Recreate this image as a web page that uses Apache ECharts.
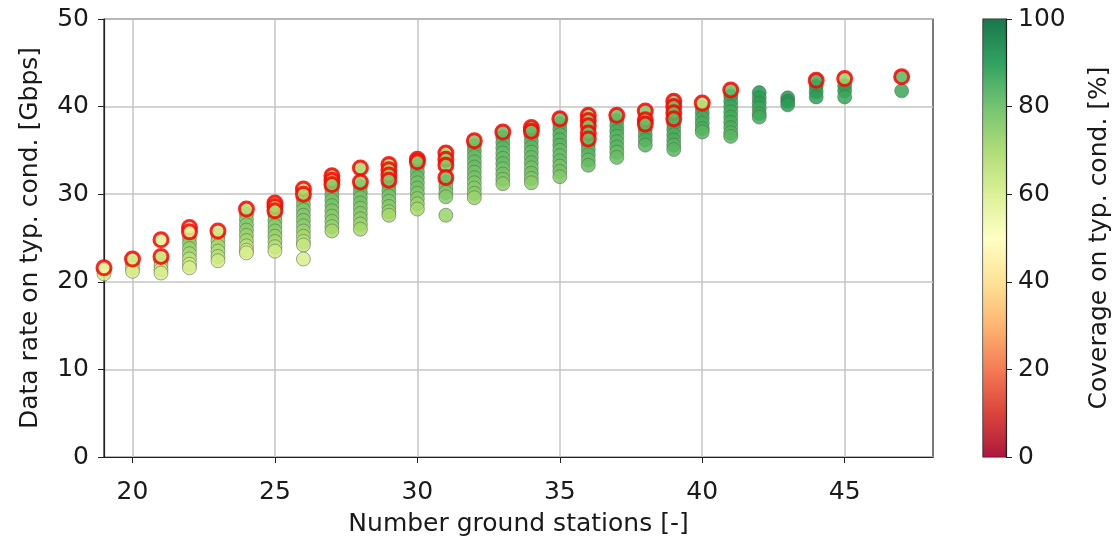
<!DOCTYPE html>
<html>
<head>
<meta charset="utf-8">
<script src="https://cdn.jsdelivr.net/npm/echarts@6/dist/echarts.min.js"></script>
<style>
html,body{margin:0;padding:0;background:#fff;}
#chart{width:1114px;height:536px;}
</style>
</head>
<body>
<div id="chart"></div>
<script>
// number of ground stations (x)
var stations = [19,20,21,22,23,24,25,26,27,28,29,30,31,32,33,34,35,36,37,38,39,40,41,42,43,44,45,47];

// all design points: data rate [Gbps] and coverage [%] per station count
var rateAll = [
	[21.3,20.9],
	[22.1,21.6,21.2],
	[22.4,21.9,21.4,21.0],
	[25.0,24.4,23.8,23.2,22.6,22.0,21.6],
	[25.3,24.7,24.1,23.5,22.9,22.4],
	[27.7,27.1,26.5,25.9,25.3,24.7,24.1,23.6,23.3],
	[27.6,27.0,26.4,25.8,25.2,24.6,24.0,23.5],
	[29.4,28.8,28.2,27.6,27.0,26.4,25.8,25.2,24.6,24.2,22.6],
	[30.5,29.9,29.3,28.7,28.1,27.5,26.9,26.3,25.8],
	[30.8,30.2,29.6,29.0,28.4,27.8,27.2,26.6,26.0],
	[31.0,30.4,29.8,29.2,28.6,28.0,27.6],
	[33.1,32.5,31.9,31.3,30.7,30.1,29.5,28.9,28.3],
	[31.4,30.8,30.2,29.7,27.6],
	[35.5,34.9,34.3,33.7,33.1,32.5,31.9,31.3,30.7,30.1,29.6],
	[36.5,35.9,35.3,34.7,34.1,33.5,32.9,32.3,31.7,31.2],
	[36.6,36.0,35.4,34.8,34.2,33.6,33.0,32.4,31.8,31.3],
	[38.0,37.4,36.8,36.2,35.6,35.0,34.4,33.8,33.2,32.6,32.0],
	[35.7,35.1,34.5,33.9,33.3],
	[38.4,37.8,37.2,36.6,36.0,35.4,34.8,34.2],
	[37.4,36.8,36.2,35.6],
	[38.0,37.4,36.8,36.2,35.6,35.1],
	[39.9,39.3,38.7,38.1,37.5,37.1],
	[41.2,40.6,40.0,39.4,38.8,38.2,37.6,37.0,36.6],
	[41.6,41.0,40.4,39.8,39.2,38.8],
	[41.0,40.6,40.2],
	[42.3,41.7,41.1],
	[42.4,41.8,41.1],
	[41.8]
];
var coverAll = [
	[64,60],
	[70,64,60],
	[70,66,62,60],
	[74,74,72,70,66,62,60],
	[72,72,70,68,66,62],
	[76,76,75,74,72,70,66,62,60],
	[76,76,75,74,72,70,66,62],
	[78,78,76,76,75,74,72,70,66,64,60],
	[80,80,78,78,76,75,74,72,70],
	[80,80,78,78,76,75,74,72,70],
	[80,80,78,76,75,72,70],
	[80,80,80,78,78,76,75,72,70],
	[80,78,76,75,72],
	[82,82,80,80,80,78,78,76,75,74,72],
	[82,82,82,80,80,80,78,78,76,74],
	[82,82,82,80,80,80,78,78,76,74],
	[84,84,82,82,82,80,80,80,78,78,76],
	[84,82,82,80,80],
	[85,84,84,82,82,82,80,80],
	[85,84,84,82],
	[86,85,84,84,82,82],
	[86,86,85,84,84,82],
	[88,86,86,85,85,84,84,82,82],
	[90,88,88,86,86,85],
	[90,90,88],
	[90,88,88],
	[88,88,86],
	[86]
];

// highlighted (red edge) points
var rateFront = [
	[21.6],[22.6],[24.8,22.9],[26.2,25.7],[25.8],[28.3],[29.0,28.6,28.1],[30.6,30.0],
	[32.1,31.6,31.1],[33.0,31.4],[33.4,32.8,32.2,31.6],[34.0,33.7],[34.7,34.0,33.3,31.9],
	[36.1],[37.1],[37.6,37.2],[38.6],[39.0,38.4,37.8,37.0,36.3],[39.0],[39.5,38.5,38.0],
	[40.6,40.0,39.3,38.6],[40.4],[41.9],[],[],[43.0],[43.2],[43.4]
];
var coverFront = [
	[55],[60],[58,62],[52,58],[60],[66],[62,66,70],[66,70],
	[68,72,74],[70,74],[70,72,74,76],[74,76],[72,74,76,78],
	[78],[80],[78,80],[80],[74,76,78,80,80],[80],[76,78,80],
	[78,80,80,82],[64],[80],[],[],[85],[72],[82]
];

var xTicks = [20,25,30,35,40,45];
var rdYlGn = ['#a50026','#d73027','#f46d43','#fdae61','#fee08b','#ffffbf','#d9ef8b','#a6d96a','#66bd63','#1a9850','#006837'];

function buildPoints(rates,covers){
	var pts=[];
	for(var i=0;i<stations.length;i++){
		for(var j=0;j<rates[i].length;j++){
			pts.push([stations[i],rates[i][j],covers[i][j]]);
		}
	}
	return pts;
}

var gradStops=[];
for(var k=0;k<rdYlGn.length;k++){
	gradStops.push({offset:k/(rdYlGn.length-1),color:rdYlGn[rdYlGn.length-1-k]});
}

var txt={color:'#1a1a1a',fontSize:25,fontFamily:'DejaVu Sans'};

var myChart=echarts.init(document.getElementById('chart'));
var option={
	animation:false,
	grid:[
		{left:104,top:19,width:829,height:438,outerBoundsMode:'none',show:true,borderColor:'#222',borderWidth:1.2,backgroundColor:'transparent'},
		{left:983,top:19,width:23,height:438,outerBoundsMode:'none',show:true,borderColor:'#222',borderWidth:1.2}
	],
	xAxis:[
		{
			type:'value',gridIndex:0,min:19,max:48.1,
			name:'Number ground stations [-]',nameLocation:'middle',nameGap:55,
			nameTextStyle:txt,
			axisLine:{show:true,onZero:false,lineStyle:{color:'#222',width:1.2}},
			axisTick:{show:true,length:6,customValues:xTicks,lineStyle:{color:'#222'}},
			axisLabel:Object.assign({customValues:xTicks,margin:23},txt),
			splitLine:{show:true,lineStyle:{color:'#c4c4c4',width:1.5}}
		},
		{type:'category',gridIndex:1,data:['c'],show:false}
	],
	yAxis:[
		{
			type:'value',gridIndex:0,min:0,max:50,interval:10,
			name:'Data rate on typ. cond. [Gbps]',nameLocation:'middle',nameGap:61,
			nameTextStyle:txt,
			axisLine:{show:true,lineStyle:{color:'#222',width:1.2}},
			axisTick:{show:true,length:6,lineStyle:{color:'#222'}},
			axisLabel:Object.assign({margin:15},txt),
			splitLine:{show:true,lineStyle:{color:'#c4c4c4',width:1.5}}
		},
		{
			type:'value',gridIndex:1,min:0,max:100,interval:20,position:'right',
			name:'Coverage on typ. cond. [%]',nameLocation:'middle',nameGap:81,nameRotate:90,
			nameTextStyle:txt,
			axisLine:{show:true,lineStyle:{color:'#222',width:1.2}},
			axisTick:{show:true,length:6,lineStyle:{color:'#222'}},
			axisLabel:Object.assign({margin:12},txt),
			splitLine:{show:false}
		}
	],
	visualMap:{
		show:false,type:'continuous',min:0,max:100,dimension:2,seriesIndex:[0,1],
		inRange:{color:rdYlGn}
	},
	series:[
		{
			type:'scatter',xAxisIndex:0,yAxisIndex:0,
			symbolSize:14,
			itemStyle:{opacity:0.85,borderColor:'rgba(80,100,80,0.8)',borderWidth:0.8},
			data:buildPoints(rateAll,coverAll)
		},
		{
			type:'scatter',xAxisIndex:0,yAxisIndex:0,
			symbolSize:14,
			itemStyle:{opacity:0.85,borderColor:'#ff0000',borderWidth:3},
			data:buildPoints(rateFront,coverFront)
		},
		{
			type:'bar',xAxisIndex:1,yAxisIndex:1,barWidth:'100%',silent:true,
			itemStyle:{opacity:0.9,color:new echarts.graphic.LinearGradient(0,0,0,1,gradStops)},
			data:[100]
		}
	]
};
myChart.setOption(option);
</script>
</body>
</html>
